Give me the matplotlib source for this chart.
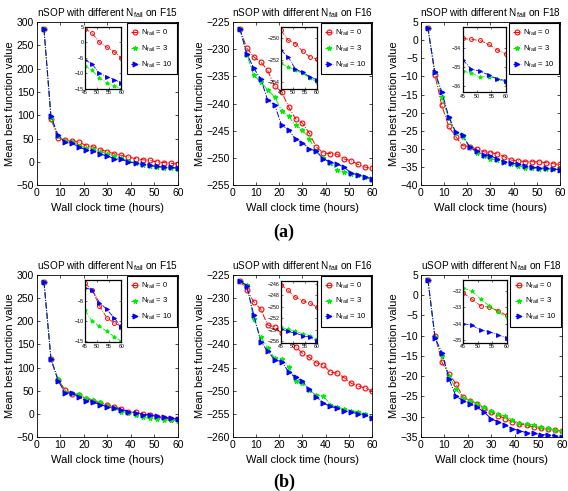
import numpy as np
import matplotlib
matplotlib.use('Agg')
import matplotlib.pyplot as plt

plt.rcParams['font.family'] = 'Liberation Sans'
plt.rcParams['mathtext.fontset'] = 'custom'
plt.rcParams['mathtext.rm'] = 'Liberation Sans'
plt.rcParams['xtick.direction'] = 'in'
plt.rcParams['ytick.direction'] = 'in'

# time points (hours)
hours = [3, 6, 9, 12, 15, 18, 21, 24, 27, 30, 33, 36, 39, 42, 45, 48, 51, 54, 57, 60]
n_fail = [0, 3, 10]

# nSOP
n15_r = [285, 92, 51, 47, 45, 42, 35, 32, 26, 22, 17, 14, 10, 7, 4.5, 3, 0, -1.5, -3, -5]
n15_g = [285, 95, 55, 44, 42, 35, 30, 27, 22, 17, 12, 8, 2, -3, -7.5, -9, -11.5, -13, -14, -15]
n15_b = [285, 98, 57, 42, 40, 31, 26, 23, 17, 12, 7, 5, 0, -3, -5.5, -7, -10, -11, -12, -13]

n16_r = [-226.2, -229.8, -231.4, -232.3, -233.9, -236.8, -237.8, -240.6, -242.8, -243.6,
         -245.5, -248, -249.1, -249.2, -249.3, -250.2, -250.5, -251.2, -251.7, -251.9]
n16_g = [-226.2, -231, -234.8, -236, -237.5, -238.8, -241.3, -242.3, -244, -244.8,
         -246.5, -248.8, -250, -250.9, -252.3, -252.6, -252.9, -253.2, -253.6, -254]
n16_b = [-226.2, -230.8, -233.5, -235.4, -239.4, -240.2, -244, -244.8, -246.5, -247.2,
         -248.3, -248.8, -250.2, -250.8, -251.1, -251.7, -252.8, -253.1, -253.5, -253.8]

n18_r = [3.5, -9.5, -18, -23.8, -26.6, -29.1, -29.4, -30, -30.8, -31, -31.4, -32.2, -33.1,
         -33.3, -33.5, -33.55, -33.6, -33.8, -34.1, -34.3]
n18_g = [3.5, -8.7, -15.6, -21.6, -25.5, -26.6, -29.6, -31, -32, -32.8, -33.1, -33.6, -34.3,
         -34.7, -35.2, -35.3, -35.5, -35.5, -35.6, -35.8]
n18_b = [3.5, -8.7, -14.2, -21.1, -25.3, -26.2, -29.4, -30.7, -31.6, -31.9, -32.8, -33.6,
         -33.8, -34.3, -34.6, -35.1, -35.2, -35.4, -35.6, -35.7]

# uSOP
u15_r = [285, 118, 74, 52, 42, 40, 33, 28, 23, 20, 15, 11, 5, 3, -0.7, -2.3, -6.2, -9.2, -10.4, -11.3]
u15_g = [285, 118, 75, 48, 45, 42, 35, 30, 25, 18, 12, 5, 2, -3, -7.3, -10, -11.3, -12.5, -13.8, -15]
u15_b = [285, 118, 72, 45, 45, 36, 28, 25, 20, 15, 13, 8, 5, 2, -1.7, -2.3, -5.4, -7.1, -9.2, -11.5]

u16_r = [-226.2, -228.2, -230.8, -232.4, -235.8, -236.2, -237.6, -238.9, -240.5, -241.9,
         -242.8, -244, -244.4, -246, -246.2, -247.2, -248.4, -249, -249.4, -250.1]
u16_g = [-226.2, -227.2, -234.6, -238.3, -240.8, -243, -243.2, -244.8, -248, -248.4,
         -249.8, -251, -251.1, -253, -253.6, -253.9, -254.3, -254.7, -255, -255.6]
u16_b = [-226.2, -227.4, -233.6, -239.4, -241.5, -243.3, -243.7, -245.9, -247.1, -248,
         -249.7, -251.3, -252.7, -253.4, -253.8, -254.3, -254.6, -255, -255.3, -256]

u18_r = [3.8, -10.1, -16.6, -19.5, -21.9, -25.2, -26, -26.8, -27.9, -28.9, -29.7, -30.5,
         -31.2, -31.7, -32.1, -32.5, -32.9, -33, -33.2, -33.5]
u18_g = [3.8, -10.3, -15, -19.9, -23.2, -25.4, -26, -26.8, -27.7, -28.5, -29.3, -29.9,
         -30.8, -31.5, -31.8, -32, -32.5, -32.9, -33.3, -33.6]
u18_b = [3.8, -10.5, -14.2, -20.7, -25, -26, -26.8, -27.7, -28.9, -30.5, -31.3, -32,
         -33, -33.4, -34, -34.1, -34.4, -34.5, -34.7, -34.9]

# panel setup: title, series, main ylim, main yticks, inset ylim, inset yticks,
# axes rect, inset rect
panels = [
    ('nSOP', 'F15', (n15_r, n15_g, n15_b), (-50, 300), np.arange(-50, 301, 50),
     (-15, 5), [-15, -10, -5, 0, 5], [0.065, 0.623, 0.248, 0.332], [0.34, 0.59, 0.26, 0.38]),
    ('nSOP', 'F16', (n16_r, n16_g, n16_b), (-255, -225), np.arange(-255, -224, 5),
     (-254.6, -249), [-254, -252, -250], [0.410, 0.623, 0.245, 0.332], [0.345, 0.59, 0.26, 0.38]),
    ('nSOP', 'F18', (n18_r, n18_g, n18_b), (-40, 5), np.arange(-40, 6, 5),
     (-36.3, -32.9), [-36, -35, -34], [0.741, 0.623, 0.245, 0.332], [0.30, 0.57, 0.31, 0.40]),
    ('uSOP', 'F15', (u15_r, u15_g, u15_b), (-50, 300), np.arange(-50, 301, 50),
     (-15.2, 0.2), [-15, -10, -5], [0.065, 0.110, 0.248, 0.330], [0.34, 0.585, 0.26, 0.385]),
    ('uSOP', 'F16', (u16_r, u16_g, u16_b), (-260, -225), np.arange(-260, -224, 5),
     (-256.3, -245.5), [-256, -254, -252, -250, -248, -246], [0.410, 0.110, 0.245, 0.330], [0.345, 0.58, 0.26, 0.385]),
    ('uSOP', 'F18', (u18_r, u18_g, u18_b), (-35, 5), np.arange(-35, 6, 5),
     (-35.2, -31.3), [-35, -34, -33, -32], [0.741, 0.110, 0.248, 0.330], [0.30, 0.58, 0.31, 0.39]),
]

colors = ['#ff0000', '#00ee00', '#0000ff']
markers = ['o', '*', '>']

fig = plt.figure(figsize=(5.68, 4.91), dpi=100)

for algo, func, series, ylim, yticks, iylim, iyticks, rect, irect in panels:
    ax = fig.add_axes(rect)
    for y, c, m, nf in zip(series, colors, markers, n_fail):
        mfc = 'none' if m == 'o' else c
        ax.plot(hours, y, linestyle='-.', color=c, marker=m, markersize=3.5,
                markerfacecolor=mfc, linewidth=0.7, markeredgewidth=0.8,
                label=r'$\mathregular{N_{fail}}$ = %d' % nf)
    ax.set_xlim(0, 60)
    ax.set_ylim(ylim)
    ax.set_xticks(np.arange(0, 61, 10))
    ax.set_yticks(yticks)
    ax.tick_params(labelsize=7.5, length=2, width=0.5, top=True, right=True, pad=2)
    for s in ax.spines.values():
        s.set_linewidth(0.6)
    ax.set_title(r'%s with different $\mathregular{N_{fail}}$ on %s' % (algo, func),
                 fontsize=7.2, pad=4)
    ax.set_xlabel('Wall clock time (hours)', fontsize=8, labelpad=4)
    ax.set_ylabel('Mean best function value', fontsize=8, labelpad=1)
    leg = ax.legend(loc='upper right', bbox_to_anchor=(1.0, 1.0), fontsize=5.5,
                    fancybox=False, edgecolor='black', framealpha=1, borderaxespad=0.1,
                    handlelength=1.0, labelspacing=0.75, borderpad=0.6, handletextpad=0.3)
    leg.get_frame().set_linewidth(0.8)

    ins = ax.inset_axes(irect)
    for y, c, m in zip(series, colors, markers):
        mfc = 'none' if m == 'o' else c
        ins.plot(hours[14:], y[14:], linestyle='-.', color=c, marker=m, markersize=2.8,
                 markerfacecolor=mfc, linewidth=0.6, markeredgewidth=0.7)
    ins.set_xlim(45, 60)
    ins.set_ylim(iylim)
    ins.set_xticks([45, 50, 55, 60])
    ins.set_yticks(iyticks)
    ins.tick_params(labelsize=3.8, length=1.5, width=0.4, top=True, right=True, pad=1)
    for s in ins.spines.values():
        s.set_linewidth(0.9)

fig.text(0.5, 0.527, '(a)', ha='center', va='center', fontsize=13, fontweight='bold',
         family='Liberation Serif')
fig.text(0.5, 0.018, '(b)', ha='center', va='center', fontsize=13, fontweight='bold',
         family='Liberation Serif')

plt.savefig('out.png', dpi=100)
